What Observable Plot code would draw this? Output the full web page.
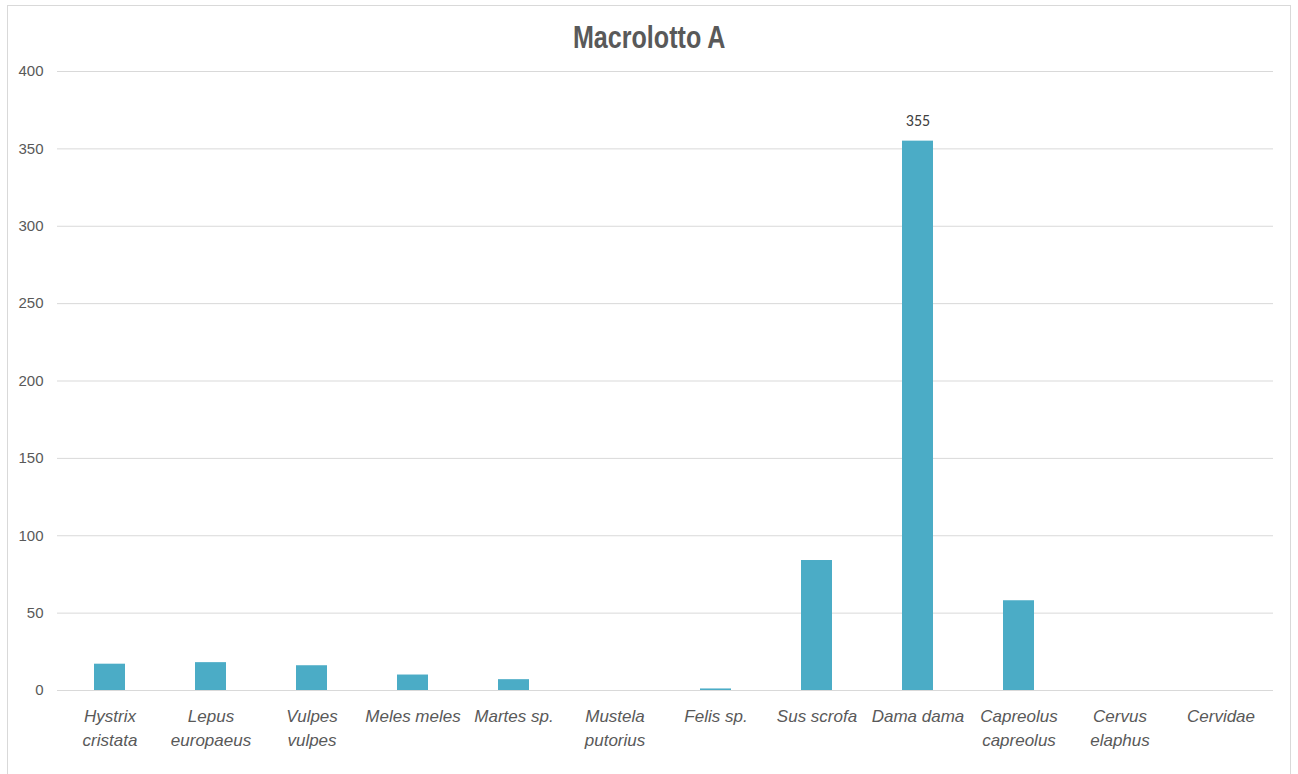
<!DOCTYPE html>
<html>
<head>
<meta charset="utf-8">
<script src="https://cdn.jsdelivr.net/npm/d3@7"></script>
<script src="https://cdn.jsdelivr.net/npm/@observablehq/plot@0.6"></script>
<style>
  html, body { margin: 0; padding: 0; background: #fff; }
  #wrap { position: relative; width: 1298px; height: 774px; overflow: hidden; }
  #frame { position: absolute; left: 7px; top: 5px; width: 1284px; height: 800px; border: 1.5px solid #d9d9d9; box-sizing: border-box; }
  #title { position: absolute; left: 0; top: 18px; width: 1298px; text-align: center;
    font-family: "Liberation Sans", Arial, sans-serif;
    font-weight: bold; font-size: 31px; color: #595959; line-height: 40px; }
  #title span { display: inline-block; transform: scaleX(0.81); transform-origin: center; }
  #chart { position: absolute; left: 0; top: 0; }
</style>
</head>
<body>
<div id="wrap">
  <div id="frame"></div>
  <div id="chart"></div>
  <div id="title"><span>Macrolotto A</span></div>
</div>
<script>
const species = ["Hystrix cristata", "Lepus europaeus", "Vulpes vulpes", "Meles meles", "Martes sp.", "Mustela putorius", "Felis sp.", "Sus scrofa", "Dama dama", "Capreolus capreolus", "Cervus elaphus", "Cervidae"];
const tickLabels = ["Hystrix\ncristata", "Lepus\neuropaeus", "Vulpes\nvulpes", "Meles meles", "Martes sp.", "Mustela\nputorius", "Felis sp.", "Sus scrofa", "Dama dama", "Capreolus\ncapreolus", "Cervus\nelaphus", "Cervidae"];
const counts = [17, 18, 16, 10, 7, 0, 1, 84, 355, 58, 0, 0];
const labelled = ["Dama dama"];
const yTicks = [0, 50, 100, 150, 200, 250, 300, 350, 400];

const data = species.map((s, i) => ({species: s, count: counts[i]}));
const labelMap = new Map(species.map((s, i) => [s, tickLabels[i]]));

const chart = Plot.plot({
  width: 1298,
  height: 774,
  marginTop: 71,
  marginBottom: 84,
  marginLeft: 57,
  marginRight: 25,
  style: {background: "transparent", overflow: "visible"},
  x: {domain: species, paddingInner: 0.69, paddingOuter: 0.345, label: null},
  y: {domain: [0, 400], ticks: yTicks, label: null},
  marks: [
    Plot.gridY(yTicks, {stroke: "#d9d9d9", strokeOpacity: 1, strokeWidth: 1}),
    Plot.barY(data, {x: "species", y: "count", fill: "#4bacc6"}),
    Plot.text(data.filter(d => labelled.includes(d.species)), {
      x: "species", y: "count", text: d => String(d.count), dy: -20,
      fontSize: 16, fill: "#404040", fontFamily: "Carlito, Lato, 'Open Sans', sans-serif"
    }),
    Plot.axisY(yTicks, {tickSize: 0, tickPadding: 14, fontSize: 15, fill: "#595959",
      fontFamily: "'Liberation Sans', Arial, sans-serif", label: null}),
    Plot.axisX({tickSize: 0, tickPadding: 15, fontSize: 17, fontStyle: "italic", fill: "#595959",
      lineHeight: 1.4, fontFamily: "'Liberation Sans', Arial, sans-serif", label: null,
      tickFormat: d => labelMap.get(d)})
  ]
});
document.getElementById("chart").appendChild(chart);
</script>
</body>
</html>
